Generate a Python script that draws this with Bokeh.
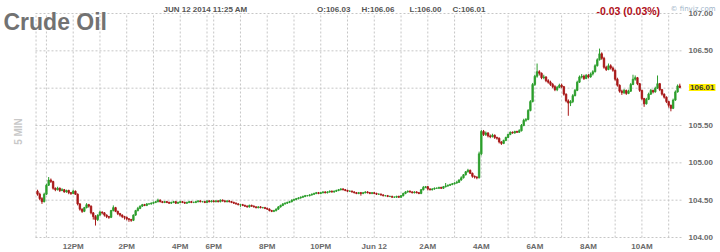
import numpy as np
from bokeh.plotting import figure
from bokeh.models import Range1d, Label
from bokeh.core.properties import value
from bokeh.embed import file_html
from bokeh.resources import INLINE

# 5-minute bars, Jun 11 10:40 AM -> Jun 12 11:25 AM (session gap 5:15-6:00 PM removed)
opens = [
 104.62,104.58,104.52,104.48,104.58,104.70,104.77,104.75,104.66,104.64,
 104.66,104.63,104.64,104.61,104.63,104.60,104.59,104.62,104.58,104.45,
 104.38,104.35,104.40,104.44,104.42,104.33,104.28,104.24,104.30,104.34,
 104.33,104.30,104.28,104.27,104.36,104.40,104.35,104.32,104.30,104.28,
 104.27,104.25,104.24,104.23,104.30,104.36,104.39,104.42,104.44,104.43,
 104.45,104.45,104.46,104.47,104.48,104.50,104.48,104.47,104.48,104.47,
 104.46,104.47,104.48,104.46,104.47,104.48,104.47,104.46,104.47,104.48,
 104.47,104.47,104.48,104.49,104.48,104.48,104.47,104.49,104.48,104.49,
 104.48,104.49,104.48,104.50,104.49,104.48,104.49,104.48,104.47,104.46,
 104.45,104.44,104.44,104.43,104.42,104.41,104.43,104.42,104.41,104.40,
 104.41,104.40,104.40,104.39,104.38,104.36,104.35,104.36,104.38,104.41,
 104.43,104.45,104.46,104.47,104.48,104.50,104.51,104.52,104.53,104.54,
 104.55,104.56,104.56,104.57,104.58,104.59,104.60,104.59,104.60,104.61,
 104.60,104.61,104.62,104.61,104.62,104.63,104.64,104.65,104.64,104.63,
 104.62,104.62,104.61,104.60,104.59,104.60,104.59,104.60,104.61,104.60,
 104.59,104.60,104.59,104.58,104.58,104.57,104.56,104.56,104.55,104.55,
 104.54,104.54,104.55,104.54,104.56,104.59,104.61,104.62,104.61,104.60,
 104.61,104.60,104.59,104.64,104.67,104.68,104.65,104.64,104.65,104.66,
 104.66,104.67,104.66,104.68,104.69,104.70,104.71,104.72,104.73,104.74,
 104.77,104.80,104.84,104.88,104.90,104.86,104.82,104.81,104.80,105.12,
 105.42,105.38,105.40,105.36,105.35,105.37,105.34,105.33,105.28,105.26,
 105.30,105.34,105.38,105.41,105.40,105.42,105.41,105.43,105.50,105.57,
 105.58,105.70,105.82,106.05,106.16,106.22,106.20,106.14,106.15,106.10,
 106.08,106.05,106.02,105.98,106.01,106.04,106.02,105.92,105.83,105.80,
 105.82,105.90,105.97,106.08,106.15,106.16,106.13,106.17,106.15,106.19,
 106.22,106.30,106.38,106.46,106.40,106.28,106.25,106.30,106.27,106.24,
 106.12,106.04,105.96,105.94,105.97,105.93,105.96,106.05,106.12,106.14,
 106.06,105.97,105.86,105.79,105.85,105.92,105.97,105.95,106.00,106.06,
 105.98,105.92,105.88,105.82,105.77,105.73,105.84,105.95,106.03]
highs = [
 104.64,104.60,104.54,104.60,104.72,104.81,104.79,104.76,104.67,104.68,
 104.67,104.66,104.65,104.64,104.64,104.61,104.64,104.63,104.59,104.46,
 104.39,104.41,104.46,104.45,104.43,104.34,104.30,104.31,104.36,104.35,
 104.34,104.31,104.29,104.37,104.43,104.41,104.36,104.33,104.31,104.29,
 104.28,104.26,104.25,104.31,104.37,104.41,104.43,104.45,104.45,104.46,
 104.46,104.47,104.48,104.49,104.52,104.51,104.49,104.49,104.49,104.48,
 104.48,104.49,104.49,104.48,104.49,104.49,104.48,104.48,104.49,104.49,
 104.48,104.49,104.50,104.50,104.49,104.49,104.50,104.50,104.50,104.50,
 104.50,104.50,104.51,104.51,104.50,104.50,104.50,104.49,104.48,104.47,
 104.46,104.45,104.45,104.44,104.43,104.44,104.44,104.43,104.42,104.42,
 104.42,104.41,104.41,104.40,104.39,104.37,104.37,104.39,104.42,104.44,
 104.46,104.47,104.48,104.49,104.51,104.52,104.53,104.54,104.55,104.56,
 104.57,104.57,104.58,104.59,104.60,104.61,104.61,104.61,104.62,104.62,
 104.62,104.63,104.63,104.63,104.64,104.65,104.66,104.66,104.65,104.64,
 104.63,104.63,104.62,104.61,104.61,104.61,104.61,104.62,104.62,104.61,
 104.61,104.61,104.60,104.59,104.59,104.58,104.57,104.57,104.56,104.56,
 104.55,104.56,104.56,104.57,104.60,104.62,104.63,104.63,104.62,104.62,
 104.62,104.61,104.65,104.69,104.69,104.69,104.66,104.66,104.67,104.67,
 104.68,104.68,104.69,104.73,104.71,104.72,104.73,104.74,104.76,104.78,
 104.82,104.85,104.89,104.92,104.91,104.87,104.83,104.82,105.15,105.44,
 105.44,105.42,105.41,105.38,105.39,105.38,105.35,105.34,105.29,105.31,
 105.35,105.39,105.42,105.42,105.43,105.43,105.45,105.52,105.59,105.60,
 105.72,105.84,106.07,106.18,106.33,106.24,106.21,106.18,106.16,106.12,
 106.10,106.07,106.04,106.03,106.06,106.06,106.03,105.93,105.85,105.84,
 105.92,105.99,106.10,106.17,106.19,106.18,106.19,106.19,106.21,106.24,
 106.32,106.40,106.53,106.48,106.42,106.30,106.33,106.32,106.29,106.25,
 106.14,106.05,105.98,105.99,105.98,105.98,106.07,106.18,106.17,106.15,
 106.07,105.98,105.87,105.87,105.94,105.99,105.98,106.02,106.17,106.07,
 105.99,105.93,105.89,105.83,105.78,105.86,105.97,106.05,106.06]
lows = [
 104.56,104.50,104.45,104.47,104.57,104.69,104.73,104.64,104.62,104.63,
 104.61,104.62,104.60,104.60,104.58,104.57,104.58,104.57,104.43,104.36,
 104.33,104.34,104.39,104.40,104.31,104.24,104.16,104.22,104.29,104.31,
 104.28,104.26,104.25,104.26,104.35,104.34,104.30,104.28,104.26,104.24,
 104.23,104.21,104.21,104.22,104.29,104.35,104.38,104.41,104.42,104.42,
 104.44,104.44,104.45,104.46,104.47,104.47,104.46,104.46,104.46,104.45,
 104.45,104.46,104.45,104.45,104.46,104.46,104.45,104.45,104.46,104.46,
 104.46,104.46,104.47,104.47,104.47,104.46,104.46,104.47,104.47,104.47,
 104.47,104.47,104.47,104.48,104.47,104.47,104.47,104.46,104.45,104.44,
 104.43,104.41,104.42,104.41,104.40,104.40,104.41,104.40,104.39,104.39,
 104.39,104.39,104.38,104.37,104.35,104.34,104.34,104.35,104.37,104.40,
 104.42,104.44,104.45,104.46,104.47,104.49,104.50,104.51,104.52,104.53,
 104.54,104.55,104.55,104.56,104.57,104.58,104.58,104.58,104.59,104.59,
 104.59,104.60,104.60,104.60,104.61,104.62,104.63,104.63,104.62,104.61,
 104.61,104.60,104.59,104.58,104.58,104.56,104.58,104.59,104.59,104.58,
 104.58,104.58,104.57,104.57,104.56,104.55,104.55,104.54,104.54,104.53,
 104.53,104.53,104.53,104.53,104.55,104.58,104.60,104.60,104.59,104.59,
 104.59,104.58,104.58,104.63,104.66,104.63,104.63,104.63,104.64,104.65,
 104.65,104.65,104.65,104.67,104.68,104.69,104.70,104.71,104.72,104.73,
 104.76,104.79,104.83,104.87,104.85,104.80,104.79,104.78,104.79,105.10,
 105.36,105.36,105.34,105.33,105.34,105.32,105.31,105.26,105.24,105.25,
 105.29,105.33,105.37,105.39,105.39,105.40,105.40,105.42,105.49,105.55,
 105.57,105.69,105.81,106.03,106.14,106.17,106.12,106.12,106.08,106.06,
 106.03,106.00,105.96,105.96,106.00,106.00,105.90,105.81,105.63,105.76,
 105.80,105.89,105.96,106.07,106.13,106.11,106.12,106.13,106.14,106.17,
 106.21,106.29,106.37,106.38,106.26,106.23,106.24,106.25,106.22,106.10,
 106.02,105.94,105.91,105.92,105.91,105.92,105.95,106.04,106.10,106.04,
 105.95,105.84,105.75,105.78,105.84,105.91,105.93,105.94,105.99,105.96,
 105.90,105.86,105.80,105.74,105.69,105.72,105.83,105.94,106.00]
closes = [
 104.58,104.52,104.48,104.58,104.70,104.77,104.75,104.66,104.64,104.66,
 104.63,104.64,104.61,104.63,104.60,104.59,104.62,104.58,104.45,104.38,
 104.35,104.40,104.44,104.42,104.33,104.28,104.24,104.30,104.34,104.33,
 104.30,104.28,104.27,104.36,104.40,104.35,104.32,104.30,104.28,104.27,
 104.25,104.24,104.23,104.30,104.36,104.39,104.42,104.44,104.43,104.45,
 104.45,104.46,104.47,104.48,104.50,104.48,104.47,104.48,104.47,104.46,
 104.47,104.48,104.46,104.47,104.48,104.47,104.46,104.47,104.48,104.47,
 104.47,104.48,104.49,104.48,104.48,104.47,104.49,104.48,104.49,104.48,
 104.49,104.48,104.50,104.49,104.48,104.49,104.48,104.47,104.46,104.45,
 104.44,104.44,104.43,104.42,104.41,104.43,104.42,104.41,104.40,104.41,
 104.40,104.40,104.39,104.38,104.36,104.35,104.36,104.38,104.41,104.43,
 104.45,104.46,104.47,104.48,104.50,104.51,104.52,104.53,104.54,104.55,
 104.56,104.56,104.57,104.58,104.59,104.60,104.59,104.60,104.61,104.60,
 104.61,104.62,104.61,104.62,104.63,104.64,104.65,104.64,104.63,104.62,
 104.62,104.61,104.60,104.59,104.60,104.59,104.60,104.61,104.60,104.59,
 104.60,104.59,104.58,104.58,104.57,104.56,104.56,104.55,104.55,104.54,
 104.54,104.55,104.54,104.56,104.59,104.61,104.62,104.61,104.60,104.61,
 104.60,104.59,104.64,104.67,104.68,104.65,104.64,104.65,104.66,104.66,
 104.67,104.66,104.68,104.69,104.70,104.71,104.72,104.73,104.74,104.77,
 104.80,104.84,104.88,104.90,104.86,104.82,104.81,104.80,105.12,105.42,
 105.38,105.40,105.36,105.35,105.37,105.34,105.33,105.28,105.26,105.30,
 105.34,105.38,105.41,105.40,105.42,105.41,105.43,105.50,105.57,105.58,
 105.70,105.82,106.05,106.16,106.22,106.20,106.14,106.15,106.10,106.08,
 106.05,106.02,105.98,106.01,106.04,106.02,105.92,105.83,105.80,105.82,
 105.90,105.97,106.08,106.15,106.16,106.13,106.17,106.15,106.19,106.22,
 106.30,106.38,106.46,106.40,106.28,106.25,106.30,106.27,106.24,106.12,
 106.04,105.96,105.94,105.97,105.93,105.96,106.05,106.12,106.14,106.06,
 105.97,105.86,105.79,105.85,105.92,105.97,105.95,106.00,106.06,105.98,
 105.92,105.88,105.82,105.77,105.73,105.84,105.95,106.03,106.01]

# bar index of each full hour (grid) and of the labelled hours
hour_bars = [4, 16, 28, 40, 52, 64, 76, 79, 91, 103, 115, 127, 139, 151,
             163, 175, 187, 199, 211, 223, 235, 247, 259, 271, 283]
label_bars = [16, 40, 64, 79, 103, 127, 151, 175, 199, 223, 247, 271]
time_labels = ["12PM", "2PM", "4PM", "6PM", "8PM", "10PM", "Jun 12",
               "2AM", "4AM", "6AM", "8AM", "10AM"]
price_ticks = [104.0, 104.5, 105.0, 105.5, 106.0, 106.5, 107.0]
price_labels = ["104.00", "104.50", "105.00", "105.50", "106.00", "106.50", "107.00"]
last_price = 106.01
header_date = "JUN 12 2014 11:25 AM"
header_ohlc = ["O:106.03", "H:106.06", "L:106.00", "C:106.01"]
header_change = "-0.03 (0.03%)"

# ---- layout (pixels) ----
W, H = 720, 252
L_PX, R_PX, T_PX, B_PX = 35, 38, 13, 15          # chart-area margins
X_LO, X_HI = -0.9, 289.2                         # chart area in bar units
Y_LO, Y_HI = 104.0, 107.0
ppx = (W - L_PX - R_PX) / (X_HI - X_LO)          # px per bar
ppy = (H - T_PX - B_PX) / (Y_HI - Y_LO)          # px per dollar

p = figure(width=W, height=H, output_backend="svg", toolbar_location=None,
           x_axis_type=None, y_axis_type=None,
           x_range=Range1d(X_LO - L_PX / ppx, X_HI + R_PX / ppx),
           y_range=Range1d(Y_LO - B_PX / ppy, Y_HI + T_PX / ppy),
           min_border=0)
p.outline_line_color = None
p.grid.visible = False
p.background_fill_color = "white"
p.border_fill_color = "white"

# dashed grid confined to chart area
GRID = dict(line_color="#c6c6c6", line_dash="2 2", line_width=1)
vx = [X_LO + 0.25] + hour_bars
p.segment(x0=vx, y0=[Y_LO] * len(vx), x1=vx, y1=[Y_HI] * len(vx), **GRID)
p.segment(x0=[X_LO] * len(price_ticks), y0=price_ticks,
          x1=[X_HI] * len(price_ticks), y1=price_ticks, **GRID)

# candles
o = np.array(opens); h = np.array(highs); l = np.array(lows); c = np.array(closes)
idx = np.arange(len(c))
up = c >= o
UP, DN = "#2c9e2c", "#a81818"
cols = np.where(up, UP, DN)
p.segment(x0=idx, y0=l, x1=idx, y1=h, color=cols, line_width=1)
p.vbar(x=idx, width=0.66, top=np.maximum(o, c), bottom=np.minimum(o, c),
       fill_color=cols, line_color=cols, line_width=0.8)

# axis tick labels
TICK = dict(text_font=value("Liberation Sans"), text_font_style="bold",
            text_font_size="8px", text_color="#6a6a6a")
p.text(x=label_bars, y=[Y_LO - 8.5 / ppy] * len(label_bars), text=time_labels,
       text_align="center", text_baseline="middle", **TICK)
p.text(x=[X_HI + 6 / ppx] * len(price_ticks), y=price_ticks, text=price_labels,
       text_align="left", text_baseline="middle", **TICK)

# last-price marker
p.add_layout(Label(x=X_HI + 6.5 / ppx, y=last_price, text="%.2f" % last_price,
                   text_font="Liberation Sans", text_font_size="8px",
                   text_font_style="bold", text_color="#333333", text_align="left",
                   text_baseline="middle", background_fill_color="#ffee00", padding=(1, 1)))

def lab(text, px, py, size, color, style="bold", align="left", baseline="alphabetic",
        angle=0, font="Liberation Sans"):
    p.add_layout(Label(x=px, y=py, x_units="canvas", y_units="canvas", text=text,
                       text_font=font, text_font_size=size, text_color=color,
                       text_font_style=style, text_align=align, text_baseline=baseline,
                       angle=angle))

lab("Crude Oil", 3, 21, "23px", "#727272")
lab(header_date, 163, 8.8, "8px", "#555555")
for t, px in zip(header_ohlc, [316.5, 361, 409, 452]):
    lab(t, px, 8.8, "8px", "#555555")
lab(header_change, 596, 10.5, "10.5px", "#b0101a")
lab("\u00a9 finviz.com", 670, 8.5, "7px", "#9db3c8", style="normal", font="DejaVu Sans")
lab("5 MIN", 18, 131, "10px", "#c8c8c8", align="center", baseline="middle", angle=np.pi / 2)

open("out.html", "w").write(file_html(p, INLINE))
